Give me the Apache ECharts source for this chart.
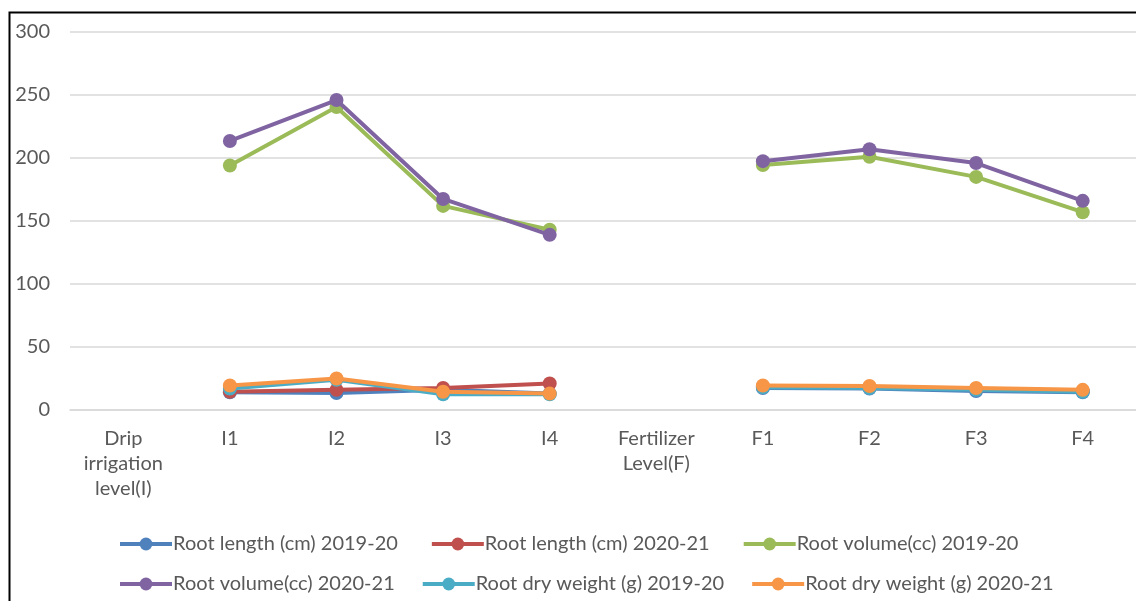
<!DOCTYPE html>
<html>
<head>
<meta charset="utf-8">
<script src="https://cdn.jsdelivr.net/npm/echarts@6/dist/echarts.min.js"></script>
<style>
html, body { margin: 0; padding: 0; background: #fff; }
#main { width: 1136px; height: 601px; }
</style>
</head>
<body>
<div id="main"></div>
<script>
// 数据
var categories = ['Drip\nirrigation\nlevel(I)', 'I1', 'I2', 'I3', 'I4', 'Fertilizer\nLevel(F)', 'F1', 'F2', 'F3', 'F4'];
var seriesNames = ['Root length (cm) 2019-20', 'Root length (cm) 2020-21', 'Root volume(cc) 2019-20',
	'Root volume(cc) 2020-21', 'Root dry weight (g) 2019-20', 'Root dry weight (g) 2020-21'];
var rootLength1920 = [null, 14, 13.5, 16, 13, null, 17.5, 17, 15, 14];
var rootLength2021 = [null, 14.5, 16, 17.5, 21, null, 18.5, 18, 16.5, 15];
var rootVolume1920 = [null, 194, 240.5, 162, 143, null, 194.5, 201, 185, 157];
var rootVolume2021 = [null, 213.5, 246, 167.5, 139, null, 197.5, 207, 196, 166];
var rootDry1920 = [null, 17, 24, 12.5, 12.5, null, 18, 17.5, 16, 14.5];
var rootDry2021 = [null, 19.5, 25, 14.5, 13, null, 19.5, 19, 17.5, 16];
var colors = ['#4F81BD', '#C0504D', '#9BBB59', '#8064A2', '#4BACC6', '#F79646'];
var yTicks = { min: 0, max: 300, interval: 50 };

var allData = [rootLength1920, rootLength2021, rootVolume1920, rootVolume2021, rootDry1920, rootDry2021];
var font = 'Lato, "Open Sans", sans-serif';

function makeLegend(names, top, gap) {
	return {
		data: names,
		left: 113,
		top: top,
		itemWidth: 52,
		itemHeight: 16,
		itemGap: gap,
		lineStyle: { width: 4 },
		textStyle: { color: '#595959', fontSize: 20, fontFamily: font, padding: [0, 0, 0, -4] }
	};
}

function renderLineChart() {
	var myChart = echarts.init(document.getElementById('main'));
	var series = [];
	for (var i = 0; i < allData.length; i++) {
		series.push({
			name: seriesNames[i],
			type: 'line',
			data: allData[i],
			symbol: 'circle',
			symbolSize: 14,
			lineStyle: { width: 4, color: colors[i] },
			itemStyle: { color: colors[i] },
			z: 2 + i
		});
	}
	var option = {
		animation: false,
		color: colors,
		grid: { left: 70, right: 0, top: 32, bottom: 191, containLabel: false },
		xAxis: {
			type: 'category',
			data: categories,
			boundaryGap: true,
			axisLine: { lineStyle: { color: '#d9d9d9', width: 1.5 } },
			axisTick: { show: false },
			axisLabel: {
				color: '#595959', fontSize: 20, fontFamily: font,
				lineHeight: 25, margin: 16, interval: 0
			}
		},
		yAxis: {
			type: 'value',
			min: yTicks.min,
			max: yTicks.max,
			interval: yTicks.interval,
			axisLine: { show: false },
			axisTick: { show: false },
			splitLine: { lineStyle: { color: '#d9d9d9', width: 1.5 } },
			axisLabel: { color: '#595959', fontSize: 20, fontFamily: font, margin: 20 }
		},
		legend: [
			makeLegend(seriesNames.slice(0, 3), 529, 32),
			makeLegend(seriesNames.slice(3, 6), 569, 26)
		],
		graphic: [{
			type: 'rect',
			left: 7, top: 10,
			shape: { width: 1140, height: 600 },
			style: { fill: 'none', stroke: '#000', lineWidth: 2 },
			silent: true
		}],
		series: series
	};
	myChart.setOption(option);
	window.onresize = function() {
		myChart.resize();
	};
}

renderLineChart();
</script>
</body>
</html>
